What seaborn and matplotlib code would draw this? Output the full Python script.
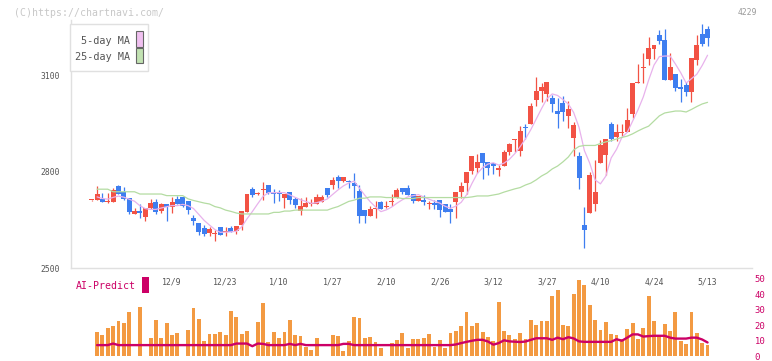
import numpy as np
import pandas as pd
import matplotlib
matplotlib.use("Agg")
import matplotlib.pyplot as plt
from matplotlib.patches import Rectangle
import seaborn as sns

# daily candles (price)
opens = [2710, 2710, 2714, 2706, 2706, 2755, 2737, 2718, 2669, 2677,
         2660, 2688, 2705, 2678, 2699, 2690, 2715, 2721, 2708, 2655,
         2640, 2624, 2609, 2605, 2626, 2613, 2623, 2615, 2633, 2675,
         2746, 2729, 2744, 2758, 2732, 2732, 2719, 2736, 2714, 2677,
         2690, 2700, 2700, 2706, 2749, 2757, 2783, 2771, 2768, 2765,
         2740, 2680, 2663, 2682, 2705, 2689, 2705, 2719, 2749, 2749,
         2730, 2709, 2711, 2700, 2703, 2711, 2698, 2683, 2705, 2737,
         2764, 2802, 2812, 2858, 2829, 2827, 2806, 2817, 2861, 2897,
         2864, 2937, 2949, 3023, 3051, 3042, 3029, 2988, 3013, 2974,
         2904, 2848, 2634, 2672, 2700, 2827, 2852, 2947, 2908, 2920,
         2922, 2980, 3074, 3123, 3151, 3182, 3224, 3209, 3085, 3103,
         3063, 3069, 3048, 3147, 3228, 3243]
highs = [2712, 2755, 2732, 2732, 2749, 2759, 2753, 2718, 2685, 2699,
         2687, 2714, 2714, 2703, 2699, 2720, 2723, 2721, 2708, 2665,
         2640, 2633, 2627, 2618, 2626, 2627, 2632, 2631, 2677, 2730,
         2751, 2735, 2766, 2758, 2746, 2742, 2731, 2736, 2721, 2719,
         2721, 2716, 2730, 2728, 2749, 2784, 2789, 2783, 2774, 2795,
         2758, 2680, 2693, 2709, 2709, 2709, 2730, 2750, 2749, 2758,
         2730, 2725, 2727, 2709, 2711, 2711, 2698, 2699, 2736, 2767,
         2798, 2848, 2854, 2858, 2829, 2827, 2821, 2866, 2889, 2901,
         2942, 2948, 3012, 3094, 3075, 3078, 3039, 3029, 3034, 3019,
         2953, 2860, 2691, 2800, 2836, 2898, 2901, 2954, 2947, 2947,
         2997, 3075, 3134, 3168, 3219, 3194, 3240, 3243, 3168, 3103,
         3088, 3078, 3153, 3224, 3259, 3252]
lows = [2709, 2710, 2706, 2703, 2706, 2731, 2711, 2668, 2669, 2655,
        2647, 2684, 2669, 2670, 2647, 2672, 2700, 2691, 2669, 2633,
        2604, 2600, 2600, 2585, 2604, 2600, 2612, 2605, 2618, 2675,
        2721, 2727, 2711, 2729, 2703, 2709, 2688, 2699, 2687, 2665,
        2690, 2693, 2700, 2706, 2721, 2745, 2750, 2767, 2749, 2719,
        2641, 2641, 2663, 2656, 2683, 2687, 2693, 2719, 2730, 2728,
        2703, 2709, 2696, 2684, 2684, 2660, 2674, 2641, 2656, 2719,
        2730, 2791, 2796, 2778, 2788, 2793, 2786, 2817, 2850, 2862,
        2848, 2901, 2949, 3004, 3017, 3019, 2986, 2936, 2958, 2936,
        2849, 2747, 2561, 2672, 2677, 2827, 2789, 2895, 2896, 2910,
        2922, 2967, 3074, 3076, 3132, 3151, 3196, 3085, 3085, 3050,
        3016, 3035, 3016, 3131, 3190, 3190]
closes = [2711, 2731, 2706, 2708, 2742, 2731, 2714, 2674, 2677, 2672,
          2686, 2702, 2674, 2699, 2691, 2705, 2700, 2694, 2679, 2647,
          2613, 2607, 2621, 2610, 2604, 2615, 2612, 2630, 2677, 2730,
          2728, 2733, 2746, 2734, 2730, 2730, 2731, 2711, 2696, 2693,
          2703, 2702, 2721, 2721, 2726, 2774, 2772, 2783, 2766, 2756,
          2663, 2663, 2683, 2684, 2683, 2690, 2707, 2743, 2737, 2728,
          2709, 2724, 2706, 2702, 2697, 2680, 2674, 2675, 2736, 2756,
          2798, 2848, 2831, 2827, 2812, 2818, 2812, 2861, 2887, 2899,
          2926, 2935, 3004, 3050, 3063, 3078, 3011, 2980, 2986, 2995,
          2945, 2781, 2619, 2789, 2736, 2883, 2901, 2901, 2923, 2922,
          2961, 3075, 3076, 3125, 3184, 3194, 3207, 3085, 3125, 3060,
          3057, 3048, 3153, 3194, 3196, 3216]

# 25-day moving average as drawn (price)
ma25 = [np.nan, 2745, 2745, 2745, 2737, 2737, 2737, 2737, 2737, 2730,
        2730, 2730, 2730, 2730, 2725, 2725, 2725, 2725, 2715, 2710,
        2706, 2702, 2699, 2691, 2687, 2680, 2676, 2671, 2668, 2668,
        2668, 2668, 2668, 2668, 2673, 2673, 2677, 2677, 2680, 2680,
        2680, 2680, 2680, 2680, 2680, 2686, 2691, 2699, 2707, 2711,
        2717, 2717, 2721, 2721, 2721, 2719, 2719, 2719, 2716, 2716,
        2716, 2719, 2719, 2719, 2719, 2719, 2719, 2719, 2719, 2719,
        2719, 2721, 2724, 2724, 2724, 2727, 2730, 2736, 2741, 2746,
        2750, 2758, 2764, 2774, 2786, 2795, 2808, 2817, 2830, 2845,
        2867, 2878, 2881, 2881, 2881, 2887, 2892, 2896, 2901, 2906,
        2910, 2917, 2926, 2934, 2941, 2957, 2973, 2982, 2985, 2988,
        2988, 2985, 2993, 3002, 3010, 3015]

# lower panel (right axis units 0-50)
volume = [np.nan, 15.6, 13.5, 18.5, 19.2, 23.0, 21.3, 28.2, 0.0, 31.8,
          0.0, 11.6, 23.6, 11.6, 21.7, 13.5, 14.8, 0.0, 16.7, 31.1,
          24.2, 10.0, 14.2, 14.2, 15.4, 13.5, 29.2, 25.5, 14.2, 16.3,
          0.0, 21.9, 34.5, 9.3, 15.6, 11.6, 15.6, 23.6, 13.5, 12.9,
          6.0, 3.8, 11.6, 0.0, 0.0, 13.5, 12.9, 3.2, 10.0, 25.5,
          24.9, 11.6, 12.2, 9.1, 5.1, 0.0, 8.5, 10.4, 14.8, 5.3,
          11.0, 11.0, 11.6, 14.2, 6.0, 10.4, 5.3, 14.8, 16.1, 19.8,
          28.2, 19.8, 21.3, 15.4, 12.2, 10.0, 35.1, 16.2, 14.0, 11.0,
          14.8, 11.0, 23.6, 20.4, 22.9, 22.9, 38.7, 42.5, 20.4, 19.2,
          39.9, 49.4, 45.6, 33.0, 23.6, 16.7, 22.3, 14.2, 13.5, 11.0,
          17.3, 21.7, 11.0, 17.9, 38.7, 22.9, 13.5, 21.0, 16.0, 28.6,
          9.8, 7.9, 28.2, 14.8, 8.5, 7.2]
ai_predict = [np.nan, 7.2, 7.2, 7.2, 8.2, 7.2, 7.2, 7.2, 7.2, 7.2,
              7.2, 7.2, 7.2, 7.2, 7.2, 7.2, 7.2, 7.2, 7.2, 7.2,
              7.2, 7.2, 7.2, 7.2, 7.2, 7.2, 7.2, 8.2, 8.2, 8.2,
              6.5, 8.2, 8.0, 7.2, 7.2, 7.2, 7.2, 8.0, 7.2, 8.0,
              7.2, 7.2, 7.2, 7.2, 7.2, 7.2, 7.2, 8.0, 8.0, 7.2,
              7.2, 7.2, 7.2, 7.2, 7.2, 7.2, 7.2, 7.2, 7.2, 7.2,
              7.2, 7.2, 7.2, 7.2, 7.2, 7.2, 7.2, 7.2, 7.6, 8.5,
              9.3, 10.0, 10.6, 10.6, 9.5, 7.5, 8.5, 10.3, 9.6, 9.4,
              9.2, 9.5, 10.6, 11.6, 11.6, 11.6, 10.6, 12.0, 11.0, 12.3,
              11.5, 9.6, 9.3, 9.3, 9.3, 9.3, 9.3, 9.3, 11.0, 10.0,
              12.0, 14.1, 14.1, 12.7, 13.0, 13.2, 13.2, 13.2, 12.0, 11.4,
              11.4, 11.4, 12.0, 12.0, 10.8, 8.9]

date_labels = ['12/9', '12/23', '1/10', '1/27', '2/10', '2/26',
               '3/12', '3/27', '4/10', '4/24', '5/13']
date_pos = [15, 25, 35, 45, 55, 65, 75, 85, 95, 105, 115]
price_ticks = [2500, 2800, 3100]
ai_ticks = [0, 10, 20, 30, 40, 50]

RED = '#f25244'
BLUE = '#3e7ef0'
PINK = '#e8b2ec'
GREEN = '#b4dca2'
CRIMSON = '#cc0066'
ORANGE = '#f39a42'
GRID = '#e0e0e0'
TXT = '#555555'

sns.set_theme(style='white')
plt.rcParams['font.family'] = ['DejaVu Sans Mono', 'DejaVu Sans']

W, H = 772, 361
fig = plt.figure(figsize=(W / 100, H / 100), dpi=100)
fig.patch.set_facecolor('white')


def fx(px):
    return px / W


def fy(py):
    return 1 - py / H


X0, X1 = -3.92, 123.3
ax = fig.add_axes([fx(70.7), fy(268), fx(752) - fx(70.7), fy(20) - fy(268)])
ax2 = fig.add_axes([fx(70.7), fy(356.3), fx(752) - fx(70.7), fy(275.5) - fy(356.3)])
ax2.patch.set_alpha(0)

idx = np.arange(len(closes))
o = np.array(opens, float)
c = np.array(closes, float)
h = np.array(highs, float)
l = np.array(lows, float)
cols = np.where(c >= o, RED, BLUE)

# candles
ax.vlines(idx, l, h, colors=cols, linewidth=0.9, zorder=2)
ax.bar(idx, np.maximum(np.abs(c - o), 3.0), bottom=np.minimum(o, c),
       width=0.93, color=cols, linewidth=0, zorder=3)

# moving averages
ma5 = pd.Series(c).rolling(5, min_periods=1).mean()
sns.lineplot(x=idx[1:], y=ma5[1:], ax=ax, color=PINK, linewidth=0.9, zorder=4)
sns.lineplot(x=idx, y=ma25, ax=ax, color=GREEN, linewidth=0.9, zorder=4)

ax.set_xlim(X0, X1)
ax.set_ylim(2500, 3271)
for s in ['top', 'right']:
    ax.spines[s].set_visible(False)
for s in ['left', 'bottom']:
    ax.spines[s].set_color(GRID)
    ax.spines[s].set_linewidth(1.0)
ax.set_yticks(price_ticks)
ax.set_yticklabels([str(t) for t in price_ticks])
ax.set_xticks(np.linspace(X0, X1, 12))
ax.set_xticklabels([])
ax.tick_params(axis='both', direction='inout', length=6, width=1.0, color=GRID)
ax.tick_params(axis='y', labelsize=5.8, labelcolor=TXT, pad=5)
ax.set_xlabel('')
ax.set_ylabel('')

for lab, p in zip(date_labels, date_pos):
    ax.text(p, -0.0565, lab, transform=ax.get_xaxis_transform(),
            ha='center', va='center', fontsize=5.9, color=TXT,
            clip_on=False, zorder=10)

# lower panel
ax2.bar(idx, volume, width=0.72, color=ORANGE, linewidth=0, zorder=2)
sns.lineplot(x=idx, y=ai_predict, ax=ax2, color=CRIMSON, linewidth=1.7, zorder=3)
ax2.set_xlim(X0, X1)
ax2.set_ylim(0, 52)
for s in ax2.spines.values():
    s.set_visible(False)
ax2.set_xticks([])
ax2.yaxis.tick_right()
ax2.set_yticks(ai_ticks)
ax2.set_yticklabels([str(t) for t in ai_ticks])
ax2.tick_params(axis='y', length=0, pad=2, labelsize=6.4, labelcolor=CRIMSON)
ax2.set_xlabel('')
ax2.set_ylabel('')

# legend box
fig.add_artist(Rectangle((fx(70), fy(71)), fx(148.3) - fx(70), fy(24) - fy(71),
                         transform=fig.transFigure, facecolor='white',
                         edgecolor=GRID, linewidth=1.0, zorder=5))
fig.text(fx(130), fy(40.7), '5-day MA', ha='right', va='center',
         fontsize=7.3, color=TXT, zorder=6)
fig.text(fx(130), fy(57.3), '25-day MA', ha='right', va='center',
         fontsize=7.3, color=TXT, zorder=6)
fig.add_artist(Rectangle((fx(136.3), fy(46.5)), fx(142.5) - fx(136.3), fy(31.3) - fy(46.5),
                         transform=fig.transFigure, facecolor='#f0c0f0',
                         edgecolor='#666666', linewidth=0.8, zorder=6))
fig.add_artist(Rectangle((fx(136.3), fy(63.2)), fx(142.5) - fx(136.3), fy(48.5) - fy(63.2),
                         transform=fig.transFigure, facecolor='#c2e2b2',
                         edgecolor='#666666', linewidth=0.8, zorder=6))

# labels
fig.text(fx(14), fy(12.7), '(C)https://chartnavi.com/', ha='left', va='center',
         fontsize=7.1, color='#c8c8c8')
fig.text(fx(757), fy(12.7), '4229', ha='right', va='center',
         fontsize=5.8, color='#999999')
fig.text(fx(76), fy(286), 'AI-Predict', ha='left', va='center',
         fontsize=7.1, color=CRIMSON)
fig.add_artist(Rectangle((fx(142.3), fy(292.7)), fx(148.7) - fx(142.3), fy(277.3) - fy(292.7),
                         transform=fig.transFigure, facecolor=CRIMSON,
                         edgecolor='none', zorder=6))

fig.savefig('out.png', dpi=100, facecolor='white')
